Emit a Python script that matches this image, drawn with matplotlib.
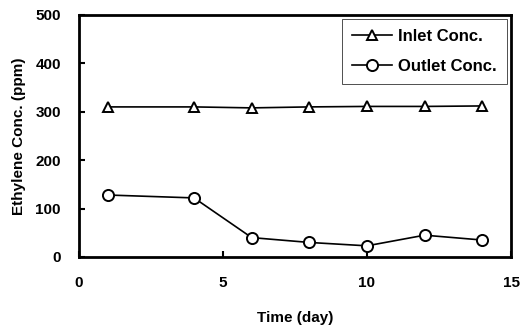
import matplotlib
matplotlib.use("Agg")
import matplotlib.pyplot as plt

days = [1, 4, 6, 8, 10, 12, 14]
inlet = [310, 310, 308, 310, 311, 311, 312]
outlet = [128, 122, 40, 30, 23, 45, 35]

plt.rcParams['font.family'] = ['Liberation Sans', 'DejaVu Sans']

fig = plt.figure(figsize=(5.29, 3.32), dpi=100)
ax = fig.add_axes([0.149, 0.226, 0.817, 0.729])

ax.plot(days, inlet, color='black', linewidth=1.2, marker='^', markersize=7,
        markerfacecolor='white', markeredgecolor='black', markeredgewidth=1.4, label='Inlet Conc.')
ax.plot(days, outlet, color='black', linewidth=1.2, marker='o', markersize=8,
        markerfacecolor='white', markeredgecolor='black', markeredgewidth=1.4, label='Outlet Conc.')

ax.set_xlim(0, 15)
ax.set_ylim(0, 500)
ax.set_xticks([0, 5, 10, 15])
ax.set_yticks([0, 100, 200, 300, 400, 500])
ax.tick_params(direction='in', length=4, width=1.5, labelsize=11)
ax.tick_params(axis='x', pad=14)
ax.tick_params(axis='y', pad=13)
for lab in ax.get_xticklabels() + ax.get_yticklabels():
    lab.set_fontweight('bold')
for s in ax.spines.values():
    s.set_linewidth(2.0)

ax.set_xlabel('Time (day)', fontsize=11, fontweight='bold', labelpad=15)
ax.set_ylabel('Ethylene Conc. (ppm)', fontsize=11, fontweight='bold', labelpad=7)

leg = ax.legend(loc='upper right', prop={'size': 12, 'weight': 'bold'}, frameon=True, fancybox=False,
                borderaxespad=0.25, borderpad=0.6, handlelength=2.4, handletextpad=0.4,
                labelspacing=0.9)
leg.get_frame().set_edgecolor('black')
leg.get_frame().set_linewidth(0.6)

fig.savefig('out.png', dpi=100)
